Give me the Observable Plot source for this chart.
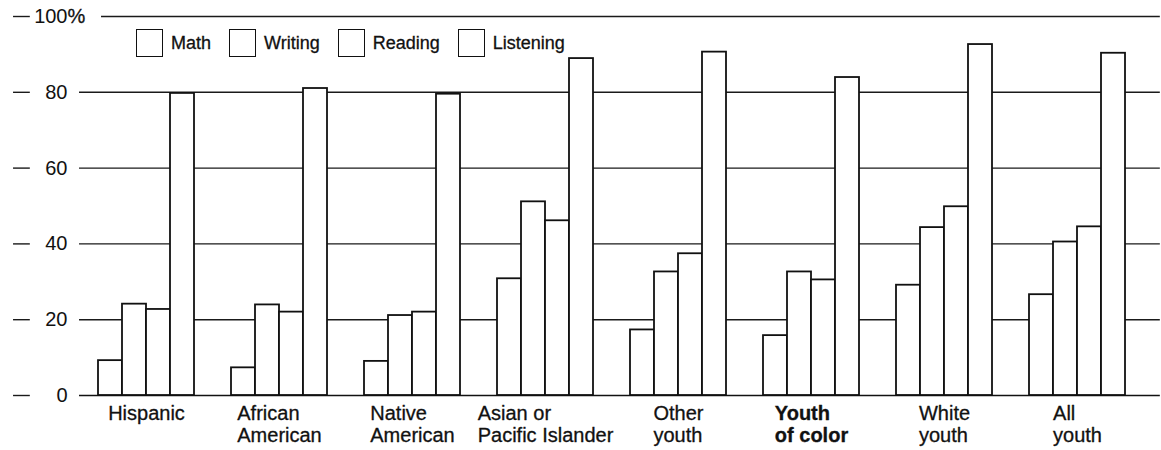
<!DOCTYPE html>
<html><head><meta charset="utf-8">
<script src="https://cdn.jsdelivr.net/npm/d3@7"></script>
<script src="https://cdn.jsdelivr.net/npm/@observablehq/plot@0.6"></script>
<style>
body{margin:0;background:#fff;font-family:"Liberation Sans",Arial,Helvetica,sans-serif;}
#wrap{position:relative;width:1161px;height:450px;}
#legend{position:absolute;left:136px;top:29px;display:flex;align-items:center;font-size:18px;color:#111;z-index:2;-webkit-text-stroke:0.3px #111;}
.item{display:flex;align-items:center;margin-right:18px;}
.box{width:27px;height:28px;border:1.6px solid #111;box-sizing:border-box;background:#fff;margin-right:8px;}
</style></head><body>
<div id="wrap"><div id="legend"></div></div>
<script>
const groups = ["Hispanic", "African American", "Native American", "Asian or Pacific Islander", "Other youth", "Youth of color", "White youth", "All youth"];
const groupLabels = ["Hispanic", "African\nAmerican", "Native\nAmerican", "Asian or\nPacific Islander", "Other\nyouth", "Youth\nof color", "White\nyouth", "All\nyouth"];
const boldGroups = ["Youth of color"];
const subjects = ["Math", "Writing", "Reading", "Listening"];
const math      = [9.2, 7.3, 9.0, 30.8, 17.3, 15.8, 29.1, 26.6];
const writing   = [24.1, 23.9, 21.1, 51.1, 32.6, 32.6, 44.3, 40.5];
const reading   = [22.7, 22.0, 22.0, 46.1, 37.4, 30.5, 49.8, 44.5];
const listening = [79.7, 81.0, 79.5, 88.9, 90.6, 83.9, 92.6, 90.3];
const yTicks = [0, 20, 40, 60, 80, 100];

const series = [math, writing, reading, listening];
const data = groups.flatMap((g, i) => subjects.map((s, j) => ({group: g, subject: s, value: series[j][i]})));

const W = 1161, H = 450, ML = 78, MR = 2, MT = 16, MB = 55;
const FX = {paddingInner: 0.278, paddingOuter: 0.195, align: 0.365};
// mirror of the fx band layout, used to stretch the grid across the whole frame
const band = d3.scaleBand(groups, [ML, W - MR]).paddingInner(FX.paddingInner).paddingOuter(FX.paddingOuter).align(FX.align);
const firstL = band(groups[0]), firstR = firstL + band.bandwidth();
const gridInsetLeft = -(firstL - ML), gridInsetRight = -((W - MR) - firstR);

const FONT = '"Liberation Sans", Arial, Helvetica, sans-serif';
const FS = 20;
const ctx = document.createElement("canvas").getContext("2d");
function blockWidth(label, bold) {
  ctx.font = `${bold ? "bold " : ""}${FS}px ${FONT}`;
  return Math.max(...label.split("\n").map(l => ctx.measureText(l).width));
}

const labelMarks = groups.map((g, i) => {
  const bold = boldGroups.includes(g);
  return Plot.text([g], {
    fx: d => d,
    text: () => groupLabels[i],
    frameAnchor: "bottom",
    lineAnchor: "top",
    textAnchor: "start",
    dx: -blockWidth(groupLabels[i], bold) / 2,
    dy: 8,
    lineHeight: 1.13,
    fontSize: FS,
    fontWeight: bold ? "bold" : "normal",
    fill: "#111",
    stroke: "#111",
    strokeWidth: 0.3
  });
});

const first = () => groups[0];
const chart = Plot.plot({
  width: W,
  height: H,
  marginLeft: ML,
  marginRight: MR,
  marginTop: MT,
  marginBottom: MB,
  style: {fontFamily: FONT, background: "white", color: "#111"},
  fx: {domain: groups, ...FX, axis: null, label: null},
  x: {domain: subjects, padding: 0, axis: null},
  y: {domain: [0, 100]},
  marks: [
    Plot.ruleY([20, 40, 60, 80], {fx: first, insetLeft: gridInsetLeft, insetRight: gridInsetRight, stroke: "#1a1a1a", strokeWidth: 1.4}),
    Plot.ruleY([100], {fx: first, insetLeft: gridInsetLeft + 22, insetRight: gridInsetRight, stroke: "#1a1a1a", strokeWidth: 1.4}),
    Plot.ruleY([0], {fx: first, insetLeft: gridInsetLeft, insetRight: gridInsetRight, stroke: "#111", strokeWidth: 1.7}),
    Plot.barY(data, {fx: "group", x: "subject", y: "value", fill: "white", stroke: "#111", strokeWidth: 1.8}),
    Plot.axisY({ticks: yTicks, tickSize: 0, tickPadding: 31, fontSize: FS, label: null, tickFormat: d => String(d), stroke: "#111", strokeWidth: 0.3}),
    Plot.ruleY(yTicks, {fx: first, insetLeft: -(firstL - 12), insetRight: firstR - 29, stroke: "#1a1a1a", strokeWidth: 1.4}),
    Plot.text([100], {y: d => d, fx: first, text: () => "%", frameAnchor: "left", textAnchor: "start", dx: -31, fontSize: FS, fill: "#111", stroke: "#111", strokeWidth: 0.3}),
    ...labelMarks
  ]
});
document.getElementById("wrap").appendChild(chart);

const legend = document.getElementById("legend");
for (const s of subjects) {
  const item = document.createElement("div");
  item.className = "item";
  const box = document.createElement("div");
  box.className = "box";
  const t = document.createElement("span");
  t.textContent = s;
  item.append(box, t);
  legend.appendChild(item);
}
</script>
</body></html>
